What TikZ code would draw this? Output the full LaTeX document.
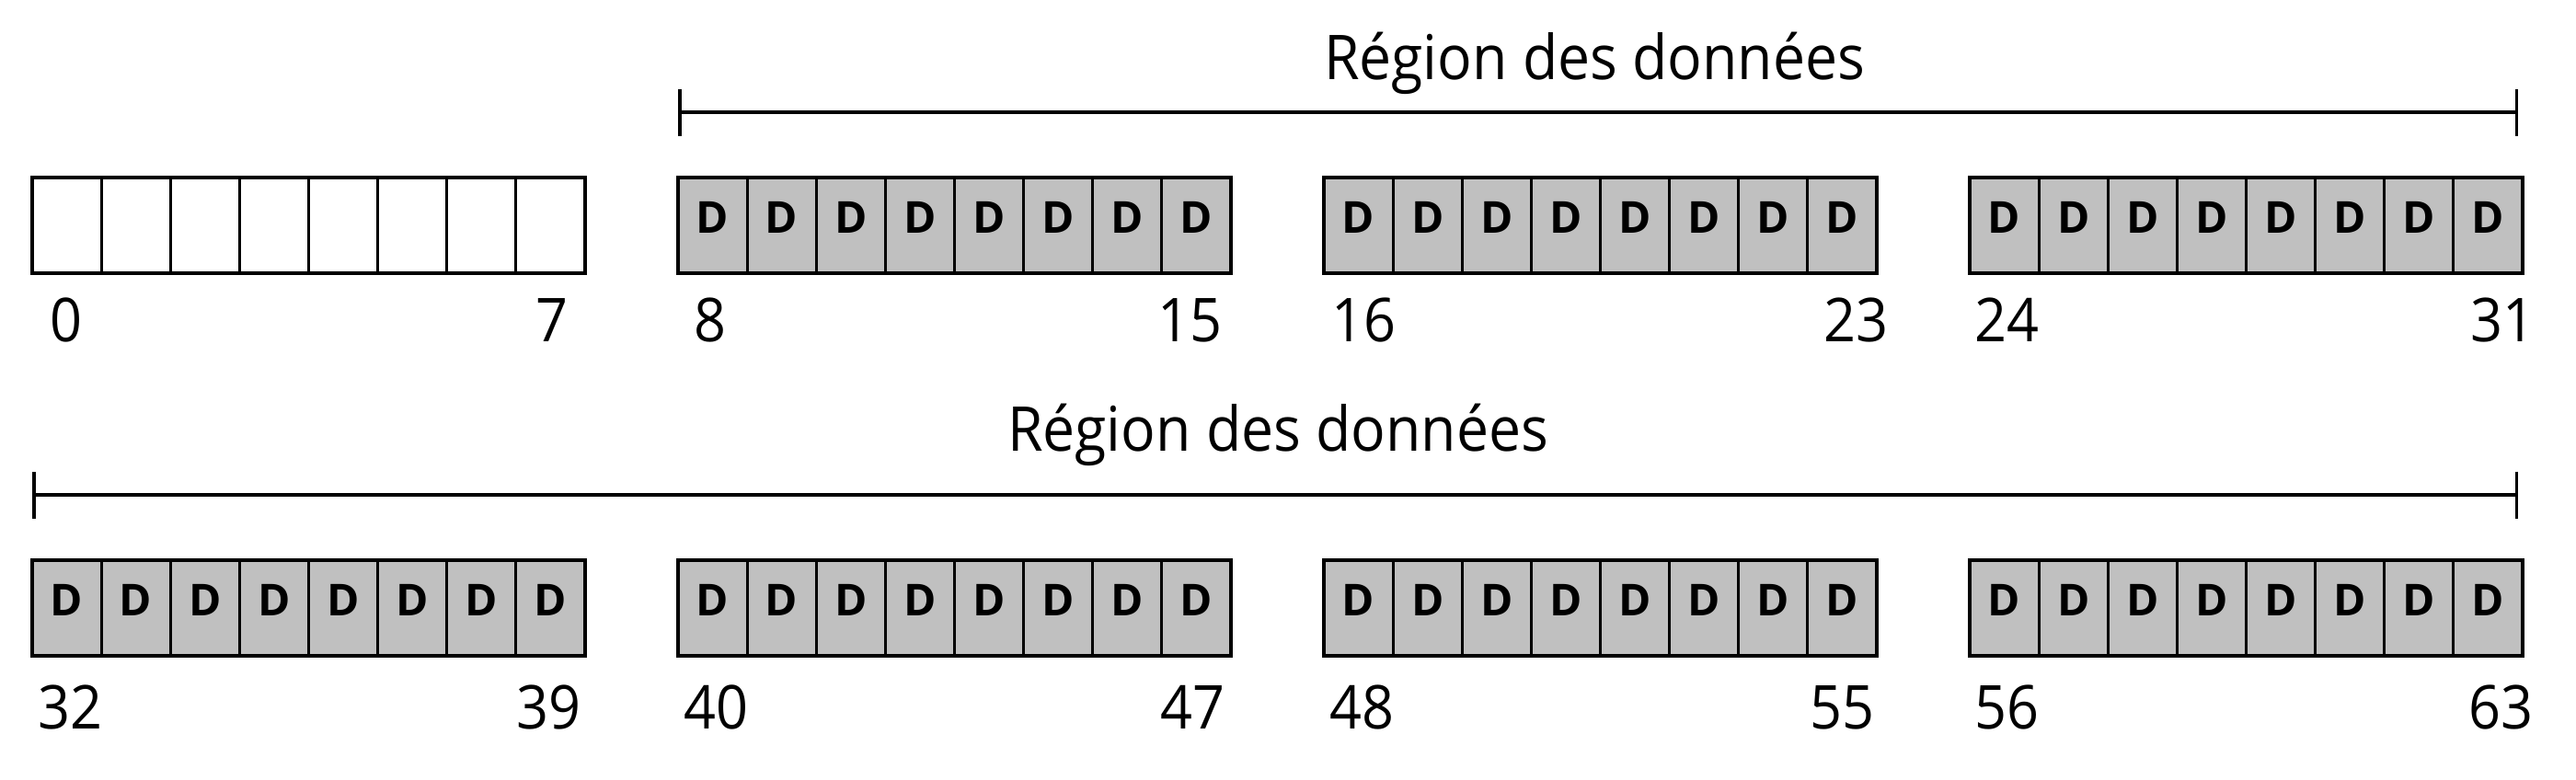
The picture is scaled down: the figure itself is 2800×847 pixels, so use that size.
\documentclass[tikz,border=0pt]{standalone}
\usepackage{fontspec}
\setmainfont{Open Sans}[FakeStretch=0.93]
\newfontfamily\cellfont{Open Sans}
\usetikzlibrary{arrows.meta}
\definecolor{cellgray}{HTML}{C0C0C0}
\tikzset{
  cellbox/.style={draw=black, line width=0.03cm, minimum width=0.7512cm, minimum height=1.03cm,
    inner sep=0pt, outer sep=0pt, anchor=center},
  datacell/.style={cellbox, fill=cellgray, font=\cellfont\bfseries\fontsize{13.6pt}{15pt}\selectfont,
    text height=0.345cm, text depth=0.17cm},
  emptycell/.style={cellbox, fill=white},
  blockborder/.style={draw=black, line width=0.04cm},
  numlabel/.style={anchor=base, inner sep=0pt, font=\fontsize{18.7pt}{22pt}\selectfont},
  regiontitle/.style={anchor=base, inner sep=0pt, font=\fontsize{19.1pt}{23pt}\selectfont},
  bracketline/.style={line width=0.04cm, {Bar[width=0.51cm,line width=0.035cm]}-{Bar[width=0.51cm,line width=0.035cm]}}
}
\begin{document}
\begin{tikzpicture}[x=0.01cm, y=-0.01cm]
\useasboundingbox (0,0) rectangle (2800,847);
% cells
\foreach \r/\yc in {0/245, 1/661}{
  \foreach \b in {0,1,2,3}{
    \pgfmathtruncatemacro{\first}{32*\r+8*\b}
    \pgfmathtruncatemacro{\last}{\first+7}
    \foreach \j in {0,...,7}{
      \pgfmathtruncatemacro{\idx}{\first+\j}
      \pgfmathsetmacro{\xc}{35+702*\b+75.125*(\j+0.5)}
      \ifnum\idx<8
        \node[emptycell] (c\idx) at (\xc,\yc) {};
      \else
        \node[datacell] (c\idx) at (\xc,\yc) {D};
      \fi
    }
    \draw[blockborder] (c\first.north west) rectangle (c\last.south east);
  }
}
% index labels
\foreach \n/\x in {0/72, 7/600, 8/772, 15/1293, 16/1482, 23/2017, 24/2181, 31/2720}{
  \node[numlabel] (n\n) at (\x,371) {\n};
}
\foreach \n/\x in {32/76, 39/596, 40/778, 47/1296, 48/1480, 55/2002, 56/2181, 63/2718}{
  \node[numlabel] (n\n) at (\x,792) {\n};
}
% brackets
\coordinate (b1l) at (737,122);
\coordinate (b1r) at (2737,122);
\coordinate (b2l) at (35,538);
\coordinate (b2r) at (2737,538);
\draw[bracketline] (b1l) -- (b1r);
\draw[bracketline] (b2l) -- (b2r);
\node[regiontitle] (t1) at (1733,86) {Région des données};
\node[regiontitle] (t2) at (1389,490) {Région des données};
\end{tikzpicture}
\end{document}
